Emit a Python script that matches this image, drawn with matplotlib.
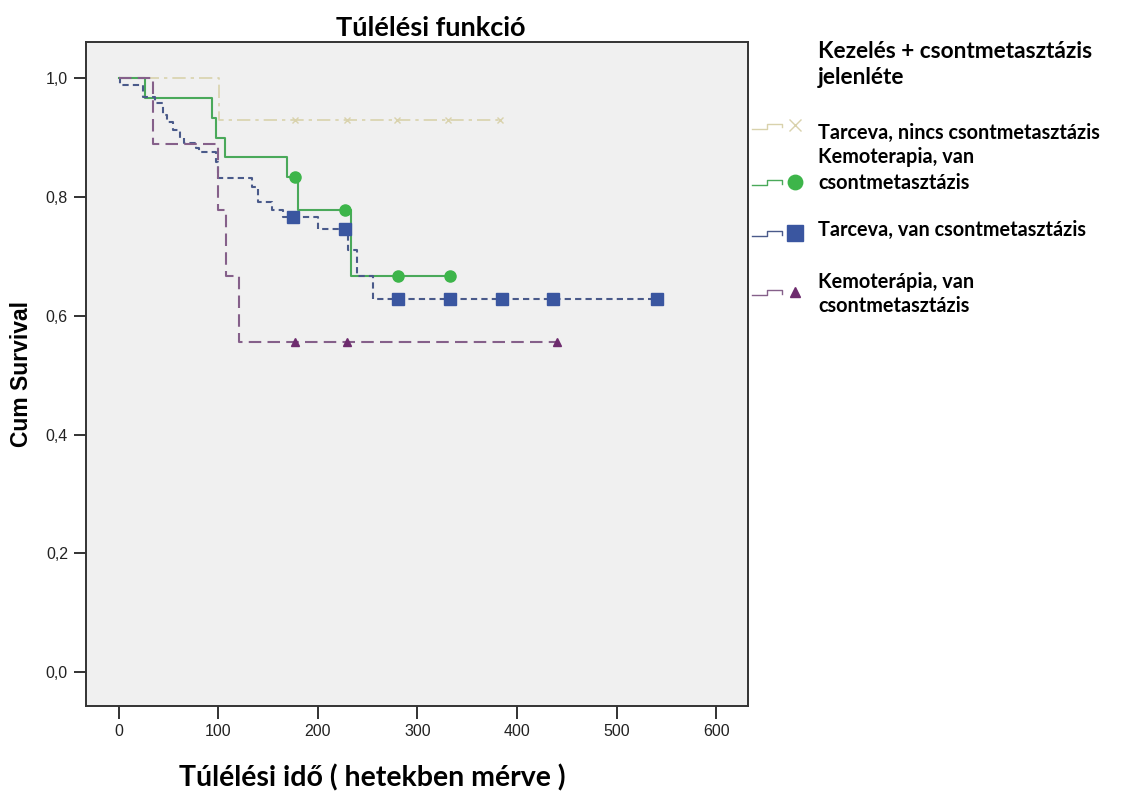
import numpy as np
import matplotlib
matplotlib.use("Agg")
import matplotlib.pyplot as plt
from matplotlib.lines import Line2D
from matplotlib.ticker import FuncFormatter

# Kaplan-Meier steps (time in weeks, cumulative survival)
tarceva_nincs_t = [0, 101, 383]
tarceva_nincs_s = [1.0, 0.929, 0.929]
tarceva_nincs_cens_t = [177, 229, 279, 331, 383]

kemo_green_t = [0, 26, 94, 98, 107, 169, 180, 233, 333]
kemo_green_s = [1.0, 0.967, 0.933, 0.900, 0.867, 0.833, 0.778, 0.667, 0.667]
kemo_green_cens_t = [177, 227, 280, 333]

tarceva_van_t = [0, 1, 24, 36, 44, 48, 54, 61, 66, 78, 81, 98, 100, 134, 140, 154, 165, 200,
                 230, 239, 255, 541]
tarceva_van_s = [1.0, 0.988, 0.968, 0.958, 0.938, 0.926, 0.912, 0.899, 0.891, 0.883, 0.875,
                 0.859, 0.832, 0.817, 0.791, 0.778, 0.766, 0.746, 0.710, 0.667, 0.628, 0.628]
tarceva_van_cens_t = [175, 227, 280, 333, 385, 436, 541]

kemo_purple_t = [0, 34, 100, 108, 121, 440]
kemo_purple_s = [1.0, 0.889, 0.778, 0.667, 0.556, 0.556]
kemo_purple_cens_t = [177, 229, 440]

legend_labels = ["Tarceva, nincs csontmetasztázis",
                 "Kemoterapia, van\ncsontmetasztázis",
                 "Tarceva, van csontmetasztázis",
                 "Kemoterápia, van\ncsontmetasztázis"]

x_ticks = [0, 100, 200, 300, 400, 500, 600]
y_ticks = [0.0, 0.2, 0.4, 0.6, 0.8, 1.0]

series = [
    (tarceva_nincs_t, tarceva_nincs_s, tarceva_nincs_cens_t,
     dict(color="#d9d2ac", ls=(0, (8, 3, 2, 3)), lw=1.2), dict(marker="x", color="#d9d2ac", ms=5)),
    (kemo_green_t, kemo_green_s, kemo_green_cens_t,
     dict(color="#4aa95a", ls="-", lw=1.5), dict(marker="o", color="#3db54a", ms=8)),
    (tarceva_van_t, tarceva_van_s, tarceva_van_cens_t,
     dict(color="#4a5a8a", ls=(0, (3, 2)), lw=1.5), dict(marker="s", color="#3a56a0", ms=9)),
    (kemo_purple_t, kemo_purple_s, kemo_purple_cens_t,
     dict(color="#85608a", ls=(0, (6, 3)), lw=1.5), dict(marker="^", color="#6e2c6e", ms=6)),
]

fig = plt.figure(figsize=(11.22, 8.09), dpi=100)
ax = fig.add_axes([0.0766, 0.1273, 0.590, 0.8208])
ax.set_facecolor("#f0f0f0")

for t, s, ct, lstyle, mstyle in series:
    ax.step(t, s, where="post", **lstyle)
    cs = [s[np.searchsorted(t, c, side="right") - 1] for c in ct]
    ax.plot(ct, cs, ls="none", **mstyle)

ax.set_xlim(-33, 632)
ax.set_ylim(-0.057, 1.061)
ax.set_xticks(x_ticks)
ax.set_yticks(y_ticks)
ax.yaxis.set_major_formatter(FuncFormatter(lambda v, p: f"{v:.1f}".replace(".", ",")))
ax.tick_params(direction="out", length=9, width=1.3, labelsize=11.5, colors="#222222", pad=4)
for lab in ax.get_xticklabels() + ax.get_yticklabels():
    lab.set_family("Liberation Sans")
for sp in ax.spines.values():
    sp.set_linewidth(1.4)
    sp.set_color("#333333")

ax.set_ylabel("Cum Survival", family="Liberation Sans", fontweight="bold", fontsize=16.5, labelpad=9)

fig.text(0.384, 0.965, "Túlélési funkció", family="Lato", fontweight="bold", fontsize=19.5,
         ha="center", va="center")
fig.text(0.332, 0.038, "Túlélési idő ( hetekben mérve )", family="Lato", fontweight="bold",
         fontsize=20.5, ha="center", va="center")

# legend block
fig.text(0.729, 0.920, "Kezelés + csontmetasztázis\njelenléte", family="Lato", fontweight="bold",
         fontsize=16.3, ha="left", va="center", linespacing=1.27)

label_y = [0.836, 0.790, 0.716, 0.637]
label_sp = [1.2, 1.4, 1.2, 1.25]
handle_y = [0.845, 0.775, 0.712, 0.639]
for (t, s, ct, lstyle, mstyle), lab, ly, lsp, hy in zip(series, legend_labels, label_y, label_sp, handle_y):
    fig.text(0.729, ly, lab, family="Lato", fontweight="bold", fontsize=14.3,
             ha="left", va="center", linespacing=lsp)
    hx = [0.670, 0.684, 0.684, 0.697, 0.697]
    hyy = [hy - 0.004, hy - 0.004, hy + 0.002, hy + 0.002, hy - 0.002]
    fig.add_artist(Line2D(hx, hyy, transform=fig.transFigure, lw=1.0,
                          color=lstyle["color"], ls="-"))
    fig.add_artist(Line2D([0.709], [hy], transform=fig.transFigure, ls="none",
                          marker=mstyle["marker"], color=mstyle["color"],
                          ms=mstyle["ms"] * 1.6 if mstyle["marker"] == "x" else mstyle["ms"] * 1.3))

fig.savefig("out.png", dpi=100)
